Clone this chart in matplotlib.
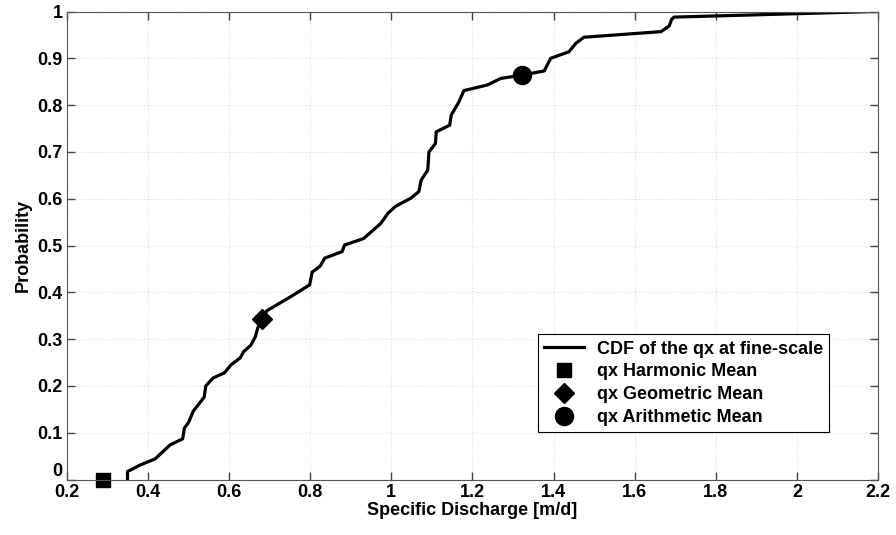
import matplotlib
matplotlib.use('Agg')
import matplotlib.pyplot as plt

plt.rcParams['font.family'] = ['Liberation Sans', 'DejaVu Sans']
plt.rcParams['font.weight'] = 'bold'

# CDF of qx
qx = [0.35, 0.35, 0.381, 0.418, 0.455, 0.486, 0.49, 0.50, 0.512, 0.539, 0.543,
      0.561, 0.589, 0.605, 0.628, 0.636, 0.654, 0.665, 0.671, 0.681, 0.694,
      0.751, 0.799, 0.805, 0.825, 0.836, 0.879, 0.885, 0.932, 0.974, 0.992,
      1.011, 1.048, 1.068, 1.074, 1.09, 1.093, 1.109, 1.111, 1.144, 1.148,
      1.167, 1.179, 1.237, 1.27, 1.322, 1.377, 1.393, 1.438, 1.455, 1.475,
      1.665, 1.685, 1.691, 1.697, 2.192]
prob = [0.0, 0.017, 0.031, 0.044, 0.074, 0.087, 0.11, 0.121, 0.146, 0.176, 0.2,
        0.217, 0.228, 0.245, 0.26, 0.273, 0.287, 0.305, 0.324, 0.343, 0.361,
        0.39, 0.416, 0.443, 0.456, 0.473, 0.487, 0.501, 0.515, 0.547, 0.569,
        0.584, 0.601, 0.615, 0.64, 0.661, 0.70, 0.718, 0.743, 0.757, 0.779,
        0.807, 0.831, 0.843, 0.857, 0.864, 0.873, 0.90, 0.914, 0.932, 0.945,
        0.957, 0.969, 0.983, 0.988, 1.0]

harmonic = (0.29, 0.0)
geometric = (0.681, 0.343)
arithmetic = (1.322, 0.864)

fig = plt.figure(figsize=(8.96, 5.35), dpi=100)
ax = fig.add_axes([0.0744, 0.1037, 0.9056, 0.8748])

ax.plot(qx, prob, color='black', lw=2.3, label='CDF of the qx at fine-scale')
ax.plot(*harmonic, 's', color='black', ms=10, label='qx Harmonic Mean', clip_on=False)
ax.plot(*geometric, 'D', color='black', ms=10, label='qx Geometric Mean')
ax.plot(*arithmetic, 'o', color='black', ms=13, label='qx Arithmetic Mean')

ax.set_xlim(0.2, 2.2)
ax.set_ylim(0, 1)
ax.set_xticks([0.2, 0.4, 0.6, 0.8, 1, 1.2, 1.4, 1.6, 1.8, 2, 2.2])
ax.set_xticklabels(['0.2', '0.4', '0.6', '0.8', '1', '1.2', '1.4', '1.6', '1.8', '2', '2.2'])
ax.set_yticks([0, 0.1, 0.2, 0.3, 0.4, 0.5, 0.6, 0.7, 0.8, 0.9, 1])
ax.set_yticklabels(['0', '0.1', '0.2', '0.3', '0.4', '0.5', '0.6', '0.7', '0.8', '0.9', '1'])
ax.tick_params(direction='in', top=True, right=True, length=6, width=1,
               color='#444444', labelsize=13, pad=3)
ax.get_yticklabels()[0].set_verticalalignment('bottom')
for s in ax.spines.values():
    s.set_color('#555555')
ax.grid(True, color='#dcdcdc', linestyle=':', linewidth=0.8)

ax.set_xlabel('Specific Discharge [m/d]', fontsize=13, fontweight='bold', labelpad=1)
ax.set_ylabel('Probability', fontsize=13, fontweight='bold', labelpad=4)

leg = ax.legend(loc='lower left', bbox_to_anchor=(0.581, 0.101), borderaxespad=0,
                fontsize=13, fancybox=False, framealpha=1, edgecolor='black',
                handlelength=2.2, handletextpad=0.7, borderpad=0.35,
                labelspacing=0.32)
leg.get_frame().set_linewidth(0.8)

plt.savefig('out.png', dpi=100)
